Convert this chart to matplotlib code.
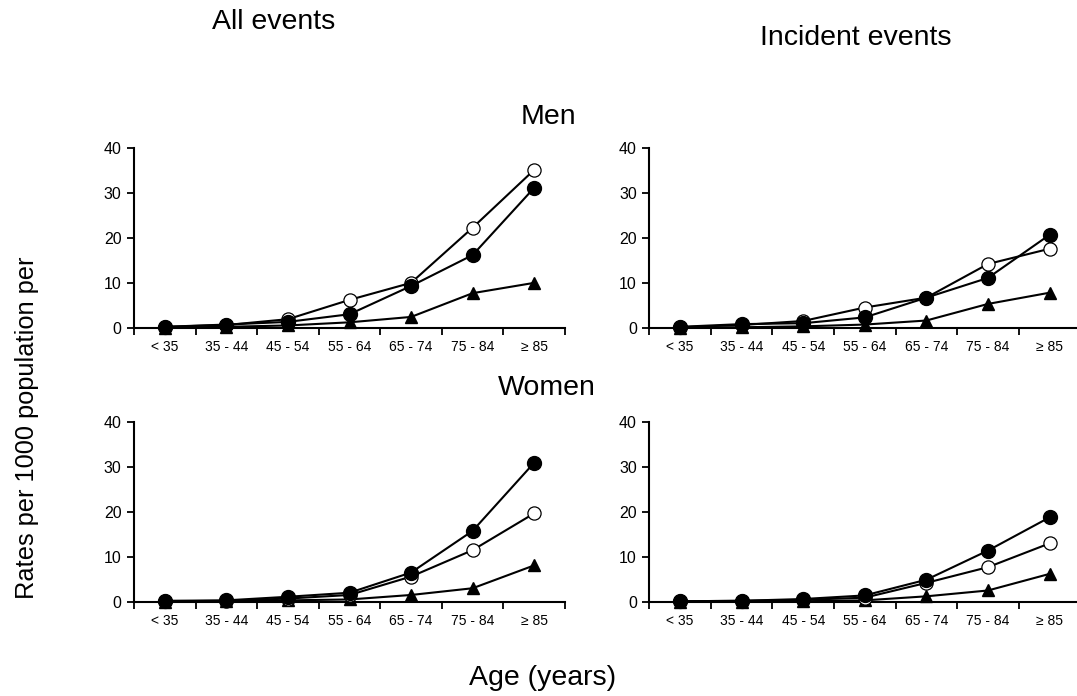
import matplotlib
matplotlib.use("Agg")
import matplotlib.pyplot as plt
import numpy as np

plt.rcParams['font.family'] = ['Liberation Sans', 'DejaVu Sans']

categories = ["< 35", "35 - 44", "45 - 54", "55 - 64", "65 - 74", "75 - 84", "≥ 85"]

# Men, all events
men_all_open = [0.2, 0.6, 1.9, 6.2, 10.0, 22.3, 35.2]
men_all_filled = [0.2, 0.7, 1.3, 3.0, 9.3, 16.2, 31.2]
men_all_tri = [0.0, 0.2, 0.5, 1.2, 2.4, 7.7, 10.0]
# Men, incident events
men_inc_open = [0.1, 0.6, 1.5, 4.5, 6.7, 14.2, 17.6]
men_inc_filled = [0.2, 0.8, 1.0, 2.3, 6.7, 11.1, 20.7]
men_inc_tri = [0.0, 0.1, 0.3, 0.7, 1.6, 5.3, 7.8]
# Women, all events
wom_all_open = [0.1, 0.2, 0.7, 1.5, 5.6, 11.5, 19.7]
wom_all_filled = [0.2, 0.3, 1.1, 2.0, 6.5, 15.8, 31.0]
wom_all_tri = [0.0, 0.1, 0.3, 0.5, 1.5, 3.0, 8.1]
# Women, incident events
wom_inc_open = [0.1, 0.2, 0.4, 0.9, 4.2, 7.7, 13.0]
wom_inc_filled = [0.1, 0.2, 0.6, 1.4, 4.9, 11.4, 18.8]
wom_inc_tri = [0.0, 0.0, 0.1, 0.3, 1.2, 2.5, 6.2]

yticks = [0, 10, 20, 30, 40]

W, H = 1077, 696
fig = plt.figure(figsize=(W / 100, H / 100), dpi=100)

def rect(x0, x1, ytop, ybot):
    return [x0 / W, 1 - ybot / H, (x1 - x0) / W, (ybot - ytop) / H]

panels = [
    (rect(134, 565, 148.3, 327.7), men_all_open, men_all_filled, men_all_tri),
    (rect(649.3, 1080.3, 148.3, 327.7), men_inc_open, men_inc_filled, men_inc_tri),
    (rect(134, 565, 422.3, 601.7), wom_all_open, wom_all_filled, wom_all_tri),
    (rect(649.3, 1080.3, 422.3, 601.7), wom_inc_open, wom_inc_filled, wom_inc_tri),
]

x = np.arange(len(categories)) + 0.5
for pos, op, fi, tr in panels:
    ax = fig.add_axes(pos)
    ax.plot(x, tr, color='black', lw=1.5, marker='^', ms=9, mfc='black', mec='black', clip_on=False, zorder=3)
    ax.plot(x, op, color='black', lw=1.5, marker='o', ms=9.5, mfc='white', mec='black', mew=0.9, clip_on=False, zorder=4)
    ax.plot(x, fi, color='black', lw=1.5, marker='o', ms=10, mfc='black', mec='black', clip_on=False, zorder=5)
    ax.set_xlim(0, len(categories))
    ax.set_ylim(0, 40)
    ax.set_yticks(yticks)
    ax.set_yticklabels([str(v) for v in yticks], fontsize=11.5)
    ax.set_xticks(np.arange(len(categories) + 1))
    ax.set_xticklabels([])
    ax.set_xticks(x, minor=True)
    ax.set_xticklabels(categories, minor=True, fontsize=10)
    ax.tick_params(axis='x', which='minor', length=0, pad=9)
    ax.tick_params(axis='x', which='major', direction='out', length=5, width=1.3)
    ax.tick_params(axis='y', direction='out', length=5, width=1.3, pad=4)
    for s in ['top', 'right']:
        ax.spines[s].set_visible(False)
    for s in ['left', 'bottom']:
        ax.spines[s].set_linewidth(1.5)
    ax.patch.set_alpha(0)

fs = 20.5
fig.text(274 / W, 1 - 22 / H, "All events", ha='center', va='center', fontsize=fs)
fig.text(856 / W, 1 - 38 / H, "Incident events", ha='center', va='center', fontsize=fs)
fig.text(548 / W, 1 - 117 / H, "Men", ha='center', va='center', fontsize=fs)
fig.text(547 / W, 1 - 388 / H, "Women", ha='center', va='center', fontsize=fs)
fig.text(543 / W, 1 - 678 / H, "Age (years)", ha='center', va='center', fontsize=fs)
fig.text(27 / W, 1 - 428 / H, "Rates per 1000 population per", ha='center', va='center',
         rotation=90, fontsize=18.3)

fig.savefig("out.png", dpi=100)
